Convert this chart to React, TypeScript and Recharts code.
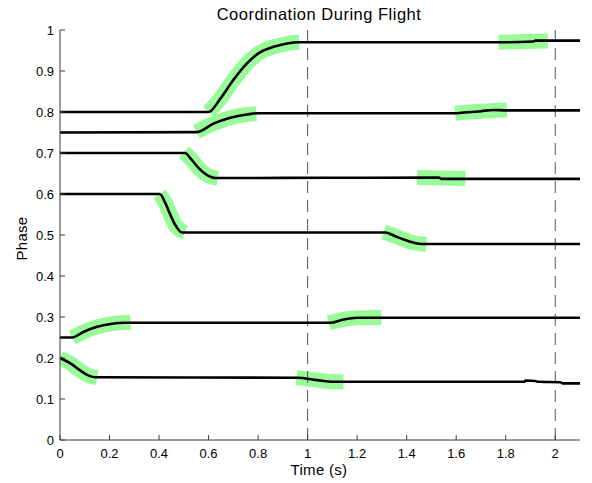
import { LineChart, Line, XAxis, YAxis, ReferenceLine } from 'recharts';

// black phase traces: [time, phase]
const lineA = [[0, 0.8], [0.6, 0.8], [0.648, 0.833], [0.7, 0.878], [0.756, 0.919], [0.809, 0.946], [0.863, 0.959], [0.917, 0.967], [0.964, 0.97], [1.8, 0.97], [1.91, 0.972], [1.92, 0.974], [2.1, 0.974]];
const lineB = [[0, 0.75], [0.551, 0.751], [0.621, 0.772], [0.688, 0.786], [0.756, 0.794], [0.8, 0.797], [1.6, 0.797], [1.62, 0.798], [1.7, 0.802], [1.75, 0.805], [1.8, 0.804], [2.1, 0.804]];
const lineC = [[0, 0.7], [0.495, 0.7], [0.505, 0.7], [0.527, 0.687], [0.56, 0.663], [0.594, 0.646], [0.628, 0.639], [1.53, 0.64], [1.54, 0.637], [2.1, 0.637]];
const lineD = [[0, 0.6], [0.403, 0.6], [0.426, 0.577], [0.446, 0.549], [0.466, 0.524], [0.493, 0.506], [1.314, 0.506], [1.35, 0.498], [1.388, 0.489], [1.43, 0.481], [1.462, 0.478], [2.1, 0.478]];
const lineE = [[0, 0.25], [0.049, 0.25], [0.096, 0.264], [0.15, 0.276], [0.204, 0.283], [0.258, 0.286], [1.092, 0.286], [1.146, 0.294], [1.2, 0.298], [2.1, 0.298]];
const lineF = [[0, 0.2], [0.042, 0.187], [0.083, 0.169], [0.116, 0.157], [0.143, 0.153], [0.957, 0.152], [1.038, 0.146], [1.105, 0.142], [1.876, 0.142], [1.88, 0.145], [1.92, 0.144], [1.93, 0.142], [2.02, 0.141], [2.03, 0.138], [2.1, 0.138]];

// green highlighted windows
const greenA1 = [[0.6, 0.8], [0.648, 0.833], [0.7, 0.878], [0.756, 0.919], [0.809, 0.946], [0.863, 0.959], [0.917, 0.967], [0.966, 0.97]];
const greenA2 = [[1.771, 0.97], [1.97, 0.973]];
const greenB1 = [[0.551, 0.752], [0.621, 0.772], [0.688, 0.786], [0.756, 0.794], [0.793, 0.796]];
const greenB2 = [[1.596, 0.797], [1.7, 0.802], [1.805, 0.805]];
const greenC1 = [[0.5, 0.702], [0.527, 0.687], [0.56, 0.663], [0.594, 0.646], [0.637, 0.638]];
const greenC2 = [[1.442, 0.64], [1.637, 0.638]];
const greenD1 = [[0.402, 0.6], [0.426, 0.577], [0.446, 0.549], [0.466, 0.524], [0.505, 0.506]];
const greenD2 = [[1.307, 0.507], [1.35, 0.498], [1.388, 0.489], [1.43, 0.481], [1.479, 0.477]];
const greenE1 = [[0.049, 0.25], [0.096, 0.264], [0.15, 0.276], [0.204, 0.283], [0.285, 0.287]];
const greenE2 = [[1.085, 0.286], [1.146, 0.294], [1.2, 0.298], [1.298, 0.299]];
const greenF1 = [[0, 0.2], [0.042, 0.187], [0.083, 0.169], [0.116, 0.157], [0.15, 0.152]];
const greenF2 = [[0.955, 0.152], [1.038, 0.146], [1.105, 0.142], [1.145, 0.142]];

const xTicks = [0, 0.2, 0.4, 0.6, 0.8, 1, 1.2, 1.4, 1.6, 1.8, 2];
const yTicks = [0, 0.1, 0.2, 0.3, 0.4, 0.5, 0.6, 0.7, 0.8, 0.9, 1];
const dashedAt = [1, 2];

const blackLines = [lineA, lineB, lineC, lineD, lineE, lineF];
const greenLines = [greenA1, greenA2, greenB1, greenB2, greenC1, greenC2, greenD1, greenD2, greenE1, greenE2, greenF1, greenF2];

const toPts = (arr: number[][]) => arr.map(([x, y]) => ({ x, y }));

// page holds only the chart, drop the default body margin so it fits the window
document.body.style.margin = '0';

const FONT = '"Liberation Sans", Arial, sans-serif';
const AX = '#3a3a3a';
const GREEN = '#98fb98';

const BottomTick = ({ x, y, payload }: any) => (
  <g>
    <line x1={x} y1={y} x2={x} y2={y - 5} stroke={AX} />
    <text x={x} y={y + 18} textAnchor="middle" fontSize={13} fontFamily={FONT} fill="#000">{String(payload.value)}</text>
  </g>
);
const TopTick = ({ x, y }: any) => <line x1={x} y1={y} x2={x} y2={y + 5} stroke={AX} />;
const LeftTick = ({ x, y, payload }: any) => (
  <g>
    <line x1={x} y1={y} x2={x + 5} y2={y} stroke={AX} />
    <text x={x - 6} y={y + 4.7} textAnchor="end" fontSize={13} fontFamily={FONT} fill="#000">{String(payload.value)}</text>
  </g>
);
const RightTick = ({ x, y }: any) => <line x1={x} y1={y} x2={x - 5} y2={y} stroke={AX} />;

export default function App() {
  return (
    <div style={{ width: 592, height: 483 }}>
      <LineChart width={592} height={483} margin={{ top: 30, right: 12, bottom: 0, left: 0 }}>
        <XAxis type="number" dataKey="x" domain={[0, 2.1]} ticks={xTicks} interval={0} height={43}
          tickSize={0} tickMargin={0} tick={<BottomTick />} axisLine={{ stroke: AX }} allowDataOverflow />
        <XAxis xAxisId="top" orientation="top" type="number" dataKey="x" domain={[0, 2.1]} ticks={xTicks} interval={0} height={0}
          tickSize={0} tickMargin={0} tick={<TopTick />} axisLine={{ stroke: AX }} allowDataOverflow />
        <YAxis type="number" domain={[0, 1]} ticks={yTicks} interval={0} width={60}
          tickSize={0} tickMargin={0} tick={<LeftTick />} axisLine={{ stroke: AX }} allowDataOverflow />
        <YAxis yAxisId="right" orientation="right" type="number" domain={[0, 1]} ticks={yTicks} interval={0} width={0}
          tickSize={0} tickMargin={0} tick={<RightTick />} axisLine={{ stroke: AX }} allowDataOverflow />
        {greenLines.map((g, i) => (
          <Line key={'g' + i} data={toPts(g)} dataKey="y" type="monotone" stroke={GREEN} strokeWidth={15}
            strokeLinecap="butt" dot={false} activeDot={false} isAnimationActive={false} />
        ))}
        {dashedAt.map((v) => (
          <ReferenceLine key={'r' + v} x={v} stroke="#555" strokeDasharray="12 7" />
        ))}
        {blackLines.map((l, i) => (
          <Line key={'b' + i} data={toPts(l)} dataKey="y" type="monotone" stroke="#000" strokeWidth={2.6}
            dot={false} activeDot={false} isAnimationActive={false} />
        ))}
        <text x={319} y={20} textAnchor="middle" fontSize={16.5} letterSpacing={0.5} fontFamily={FONT} fill="#000">Coordination During Flight</text>
        <text x={319} y={475} textAnchor="middle" fontSize={15} letterSpacing={0.3} fontFamily={FONT} fill="#000">Time (s)</text>
        <text x={27} y={238.5} textAnchor="middle" fontSize={15} letterSpacing={0.3} fontFamily={FONT} fill="#000" transform="rotate(-90 27 238.5)">Phase</text>
      </LineChart>
    </div>
  );
}
